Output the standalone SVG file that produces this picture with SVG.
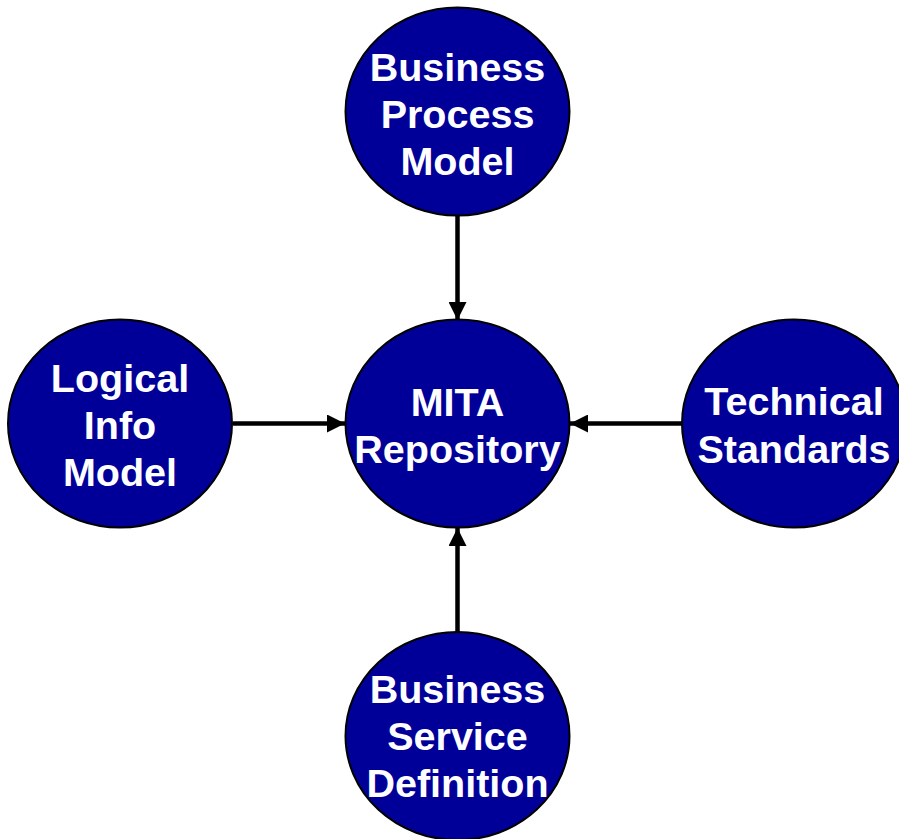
<svg xmlns="http://www.w3.org/2000/svg" width="899" height="839" viewBox="0 0 899 839">
<defs>
<style>
.node ellipse{fill:#000099;stroke:#000;stroke-width:2}
.node text{fill:#fff;font-family:"Liberation Sans",Arial,sans-serif;font-weight:bold;font-size:39.5px;text-anchor:middle}
.conn line{stroke:#000;stroke-width:4.5;marker-end:url(#ah)}
</style>
<marker id="ah" viewBox="0 0 10 10" refX="10" refY="5" markerWidth="4.2" markerHeight="4" orient="auto" markerUnits="strokeWidth">
<path d="M0,0 L10,5 L0,10 z" fill="#000"/>
</marker>
</defs>
<rect width="899" height="839" fill="#fff"/>
<g id="connectors" class="conn">
<line x1="457.5" y1="216" x2="457.5" y2="320"/>
<line x1="457.5" y1="632" x2="457.5" y2="528"/>
<line x1="233" y1="423.5" x2="345" y2="423.5"/>
<line x1="682" y1="423.5" x2="570" y2="423.5"/>
</g>
<g id="bpm" class="node">
<ellipse cx="457.5" cy="111.5" rx="112" ry="104"/>
<text x="457.5" y="81">Business</text>
<text x="457.5" y="128">Process</text>
<text x="457.5" y="175">Model</text>
</g>
<g id="mita" class="node">
<ellipse cx="457.5" cy="423.5" rx="112" ry="104"/>
<text x="457.5" y="416">MITA</text>
<text x="457.5" y="463">Repository</text>
</g>
<g id="lim" class="node">
<ellipse cx="120" cy="423.5" rx="112" ry="104"/>
<text x="120" y="392">Logical</text>
<text x="120" y="439">Info</text>
<text x="120" y="486">Model</text>
</g>
<g id="ts" class="node">
<ellipse cx="794" cy="423.5" rx="112" ry="104"/>
<text x="794" y="415">Technical</text>
<text x="794" y="463">Standards</text>
</g>
<g id="bsd" class="node">
<ellipse cx="457.5" cy="736" rx="112" ry="104"/>
<text x="457.5" y="703">Business</text>
<text x="457.5" y="750">Service</text>
<text x="457.5" y="797">Definition</text>
</g>
</svg>
